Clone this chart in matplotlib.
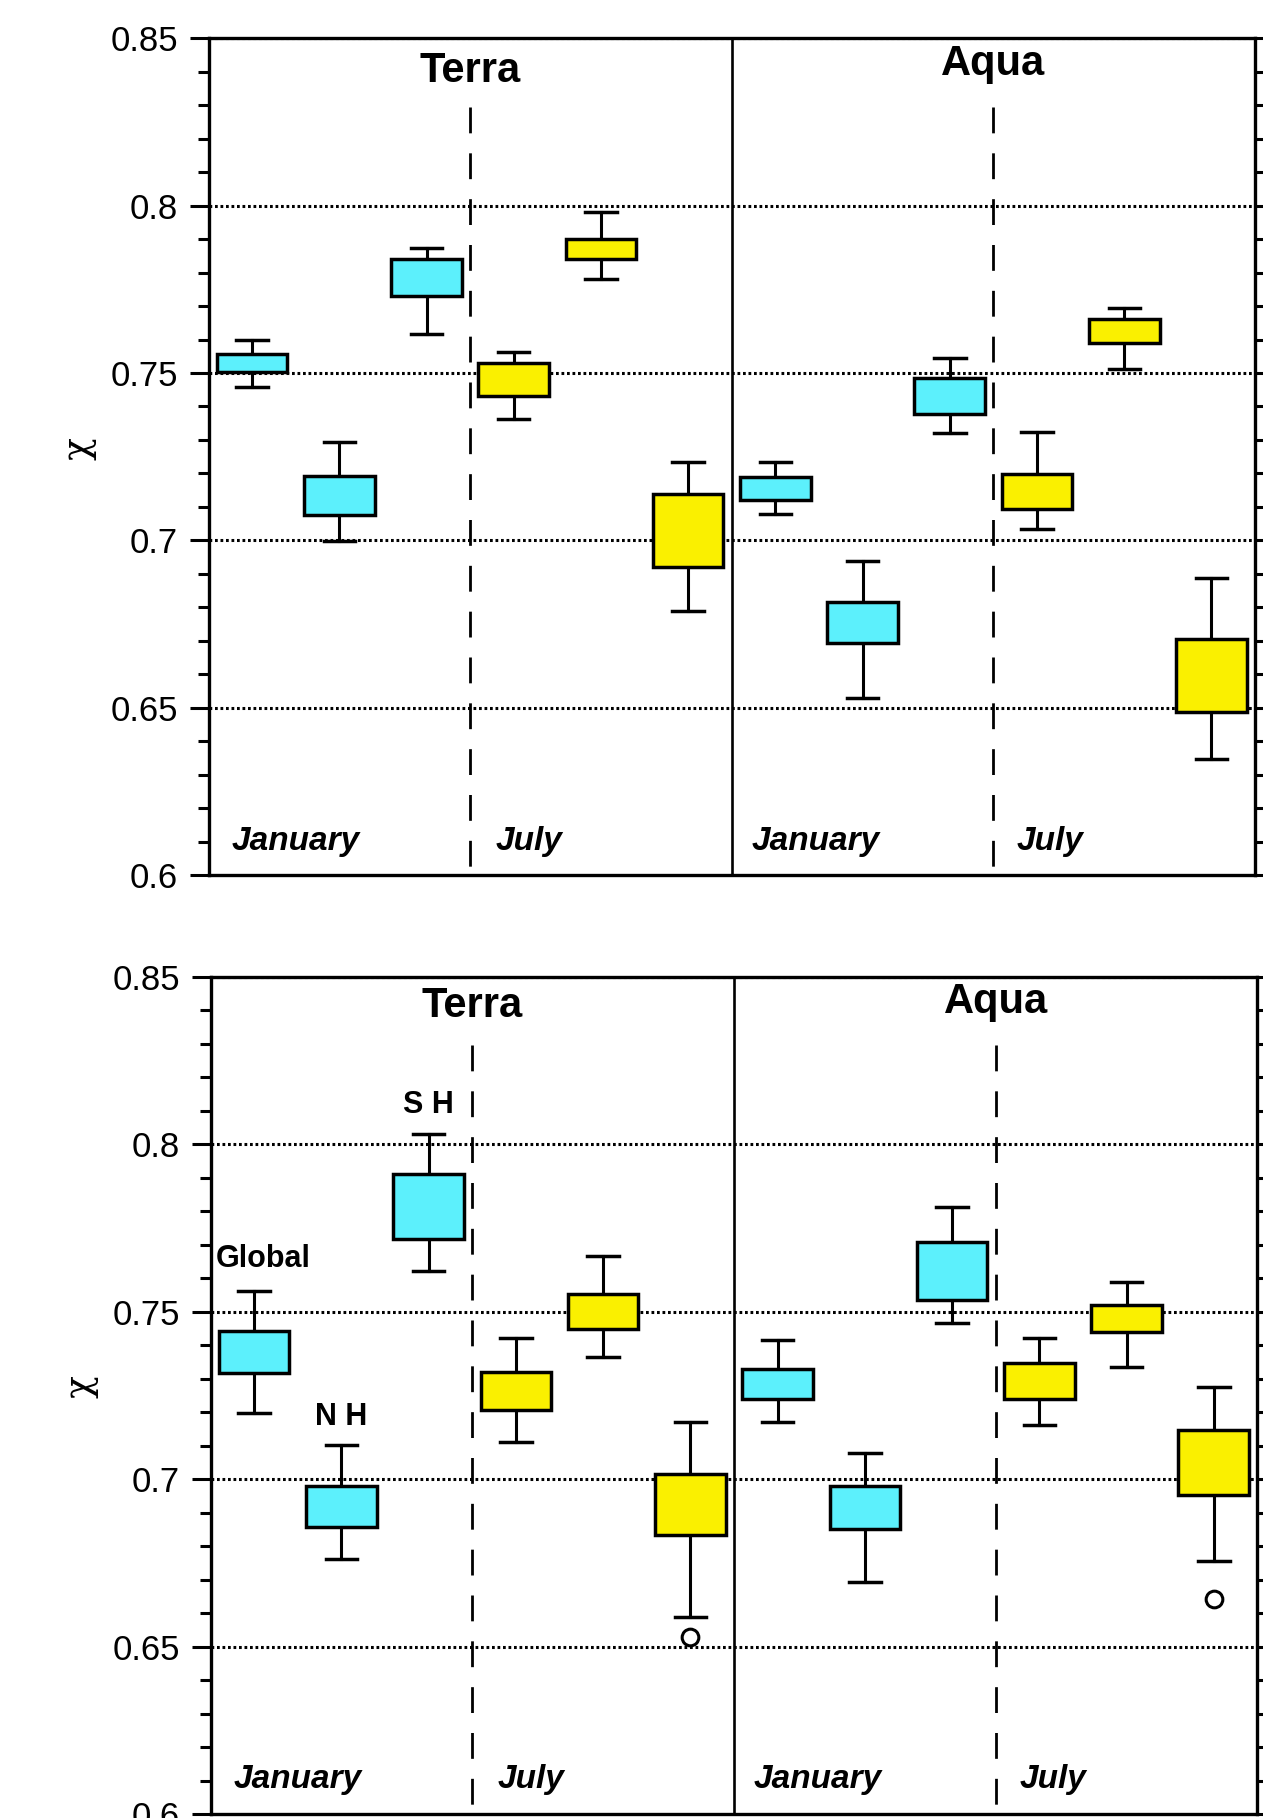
import numpy as np
import matplotlib
matplotlib.use("Agg")
import matplotlib.pyplot as plt

plt.rcParams["font.family"] = ["Liberation Sans", "DejaVu Sans"]

# box positions: Terra Jan (Global, NH, SH), Terra Jul, Aqua Jan, Aqua Jul
positions = list(range(1, 13))
box_colors = ["#5CF0FC"] * 3 + ["#FAF000"] * 3 + ["#5CF0FC"] * 3 + ["#FAF000"] * 3

# top panel statistics
top_lo = [0.7459, 0.6999, 0.7616, 0.7364, 0.7780, 0.6790, 0.7078, 0.6530, 0.7320, 0.7033, 0.7511, 0.6347]
top_q1 = [0.7502, 0.7076, 0.7730, 0.7432, 0.7840, 0.6919, 0.7120, 0.6694, 0.7379, 0.7093, 0.7589, 0.6486]
top_med = [0.7531, 0.7130, 0.7798, 0.7469, 0.7885, 0.7026, 0.7147, 0.6755, 0.7433, 0.7146, 0.7618, 0.6591]
top_q3 = [0.7557, 0.7192, 0.7842, 0.7529, 0.7901, 0.7138, 0.7190, 0.6817, 0.7486, 0.7198, 0.7660, 0.6704]
top_hi = [0.7598, 0.7293, 0.7875, 0.7563, 0.7981, 0.7233, 0.7233, 0.6938, 0.7546, 0.7323, 0.7693, 0.6886]
top_fliers = [[] for _ in range(12)]

# bottom panel statistics
bot_lo = [0.7196, 0.6762, 0.7622, 0.7110, 0.7363, 0.6589, 0.7170, 0.6693, 0.7466, 0.7161, 0.7335, 0.6755]
bot_q1 = [0.7318, 0.6858, 0.7718, 0.7206, 0.7447, 0.6833, 0.7239, 0.6850, 0.7535, 0.7239, 0.7438, 0.6952]
bot_med = [0.7364, 0.6928, 0.7831, 0.7258, 0.7520, 0.6920, 0.7284, 0.6920, 0.7622, 0.7320, 0.7475, 0.7065]
bot_q3 = [0.7442, 0.6980, 0.7910, 0.7319, 0.7553, 0.7015, 0.7328, 0.6980, 0.7709, 0.7347, 0.7520, 0.7145]
bot_hi = [0.7562, 0.7102, 0.8030, 0.7422, 0.7666, 0.7171, 0.7414, 0.7077, 0.7813, 0.7422, 0.7587, 0.7275]
bot_fliers = [[], [], [], [], [], [0.6529], [], [], [], [], [], [0.6641]]

ytick_vals = [0.6, 0.65, 0.7, 0.75, 0.8, 0.85]
ytick_labels = ["0.6", "0.65", "0.7", "0.75", "0.8", "0.85"]
grid_vals = [0.65, 0.7, 0.75, 0.8, 0.85]

fig = plt.figure(figsize=(12.63, 18.18), dpi=100)
ax_top = fig.add_axes([0.1651, 0.5187, 0.8286, 0.4602])
ax_bot = fig.add_axes([0.1667, 0.0022, 0.8289, 0.4606])


def draw_panel(ax, lo, q1, med, q3, hi, fliers, terra_y, aqua_y, label_y):
    stats = []
    for i in range(len(positions)):
        stats.append(dict(whislo=lo[i], q1=q1[i], med=med[i], q3=q3[i],
                          whishi=hi[i], fliers=fliers[i]))
    for g in grid_vals:
        ax.axhline(g, color="black", lw=2.2, ls=(0, (0.9, 0.9)), zorder=1)
    bp = ax.bxp(stats, positions=positions, widths=0.81, capwidths=0.36,
                patch_artist=True, manage_ticks=False,
                boxprops=dict(linewidth=2.5, edgecolor="black"),
                medianprops=dict(color="black", linewidth=2.6),
                whiskerprops=dict(color="black", linewidth=2.2),
                capprops=dict(color="black", linewidth=2.5),
                flierprops=dict(marker="o", markersize=12, markerfacecolor="none",
                                markeredgecolor="black", markeredgewidth=2.2))
    for patch, c in zip(bp["boxes"], box_colors):
        patch.set_facecolor(c)
        patch.set_zorder(3)

    # separators
    ax.plot([6.5, 6.5], [0.6, 0.85], color="black", lw=1.9, zorder=2)
    for xd in [3.5, 9.5]:
        ax.plot([xd, xd], [0.8295, 0.6], color="black", lw=2.0,
                ls=(0, (9.3, 7.2)), zorder=2)

    ax.set_xlim(0.5, 12.5)
    ax.set_ylim(0.6, 0.85)
    ax.set_xticks([])
    ax.set_yticks(ytick_vals, ytick_labels)
    ax.set_yticks(np.arange(0.6, 0.851, 0.01), minor=True)
    ax.tick_params(axis="y", which="major", length=14, width=2.2, labelsize=25, pad=8,
                   direction="out", right=True)
    ax.tick_params(axis="y", which="minor", length=8, width=2.2, direction="out", right=True)
    for s in ax.spines.values():
        s.set_linewidth(2.4)

    ax.text(3.5, terra_y, "Terra", fontsize=30, fontweight="bold", ha="center", va="baseline")
    ax.text(9.5, aqua_y, "Aqua", fontsize=30, fontweight="bold", ha="center", va="baseline")
    for xm, name in [(0.76, "January"), (3.79, "July"), (6.73, "January"), (9.77, "July")]:
        ax.text(xm, label_y, name, fontsize=24, fontweight="bold", fontstyle="italic",
                ha="left", va="baseline")

    ax.set_ylabel("χ", fontsize=27, family=["DejaVu Serif"])
    ax.yaxis.set_label_coords(-0.107, 0.51)


draw_panel(ax_top, top_lo, top_q1, top_med, top_q3, top_hi, top_fliers, 0.8369, 0.8390, 0.6075)
draw_panel(ax_bot, bot_lo, bot_q1, bot_med, bot_q3, bot_hi, bot_fliers, 0.8380, 0.8391, 0.6077)

# region labels on bottom panel
ax_bot.text(1.1, 0.7633, "Global", fontsize=22, fontweight="bold", ha="center", va="baseline")
ax_bot.text(2.0, 0.7161, "N H", fontsize=22, fontweight="bold", ha="center", va="baseline")
ax_bot.text(3.0, 0.8093, "S H", fontsize=22, fontweight="bold", ha="center", va="baseline")

fig.savefig("out.png", dpi=100)
